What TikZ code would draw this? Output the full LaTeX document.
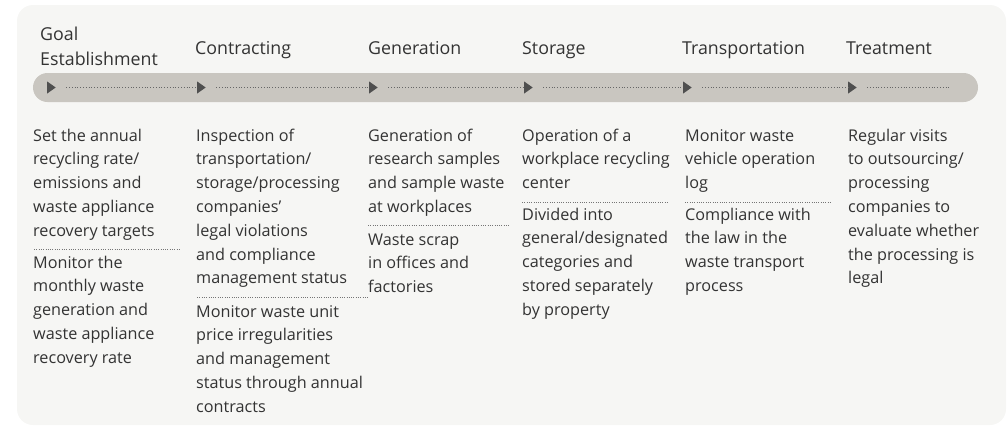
\documentclass[tikz,border=0pt]{standalone}
\usepackage{fontspec}
\setmainfont{Open Sans}
\usetikzlibrary{shapes.geometric}
\definecolor{pagebg}{HTML}{F6F6F4}
\definecolor{barbg}{HTML}{C9C6C0}
\definecolor{tri}{HTML}{4F4F4F}
\definecolor{txt}{HTML}{333333}
\definecolor{dotc}{HTML}{666666}
\newcommand{\mytxt}[1]{\parbox[t]{190pt}{\raggedright #1}}
\tikzset{
  head/.style={anchor=base west, inner sep=0pt, text=txt,
    font=\fontsize{17.8}{25}\selectfont},
  body/.style={anchor=base west, inner sep=0pt, text=txt,
    font=\fontsize{16.2}{23.8}\selectfont},
  marker/.style={isosceles triangle, isosceles triangle stretches, fill=tri,
    inner sep=0pt, minimum height=8.5pt, minimum width=12pt, anchor=west},
  flow/.style={dotc, line width=0.8pt, dash pattern=on 0.8pt off 2pt},
  sep/.style={dotc!90, line width=0.7pt, dash pattern=on 0.7pt off 1.6pt},
}
\begin{document}
\begin{tikzpicture}[x=1pt, y=-1pt]
\useasboundingbox (0,0) rectangle (1007,426);
% background panel
\fill[pagebg, rounded corners=16pt] (17,5) rectangle (1006,425);
% bar
\fill[barbg, rounded corners=14.5pt] (33,73) rectangle (978,102);
% markers
\node[marker] (m1) at (47,87.5) {};
\node[marker] (m2) at (197,87.5) {};
\node[marker] (m3) at (369,87.5) {};
\node[marker] (m4) at (524,87.5) {};
\node[marker] (m5) at (683,87.5) {};
\node[marker] (m6) at (848,87.5) {};
\coordinate (mend) at (950,87.5);
\draw[flow] ([xshift=10pt]m1.apex) -- (m2.west);
\draw[flow] ([xshift=10pt]m2.apex) -- (m3.west);
\draw[flow] ([xshift=10pt]m3.apex) -- (m4.west);
\draw[flow] ([xshift=10pt]m4.apex) -- (m5.west);
\draw[flow] ([xshift=10pt]m5.apex) -- (m6.west);
\draw[flow] ([xshift=10pt]m6.apex) -- (mend);
% headers
\node[head] (h1) at (40,40) {\mytxt{Goal\\Establishment}};
\node[head] (h2) at (195,54) {Contracting};
\node[head] (h3) at (368,54) {Generation};
\node[head] (h4) at (522,54) {Storage};
\node[head] (h5) at (682,54) {Transportation};
\node[head] (h6) at (846,54) {Treatment};
% column 1
\node[body] (a1) at (33,141) {\mytxt{Set the annual\\recycling rate/\\emissions and\\waste appliance\\recovery targets}};
\node[body] (b1) at (33,268) {\mytxt{Monitor the\\monthly waste\\generation and\\waste appliance\\recovery rate}};
\draw[sep] (34,249) -- (180,249);
% column 2
\node[body] (a2) at (196,141) {\mytxt{Inspection of\\transportation/\\storage/processing\\companies’\\legal violations\\and compliance\\management status}};
\node[body] (b2) at (196,317) {\mytxt{Monitor waste unit\\price irregularities\\and management\\status through annual\\contracts}};
\draw[sep] (197,297) -- (368,297);
% column 3
\node[body] (a3) at (368,141) {\mytxt{Generation of\\research samples\\and sample waste\\at workplaces}};
\node[body] (b3) at (368,245) {\mytxt{Waste scrap\\in offices and\\factories}};
\draw[sep] (368,225) -- (510,225);
% column 4
\node[body] (a4) at (522,141) {\mytxt{Operation of a\\workplace recycling\\center}};
\node[body] (b4) at (522,220) {\mytxt{Divided into\\general/designated\\categories and\\stored separately\\by property}};
\draw[sep] (522,202) -- (669,202);
% column 5
\node[body] (a5) at (685,141) {\mytxt{Monitor waste\\vehicle operation\\log}};
\node[body] (b5) at (685,220) {\mytxt{Compliance with\\the law in the\\waste transport\\process}};
\draw[sep] (685,202) -- (832,202);
% column 6
\node[body] (a6) at (848,141) {\mytxt{Regular visits\\to outsourcing/\\processing\\companies to\\evaluate whether\\the processing is\\legal}};
\end{tikzpicture}
\end{document}
